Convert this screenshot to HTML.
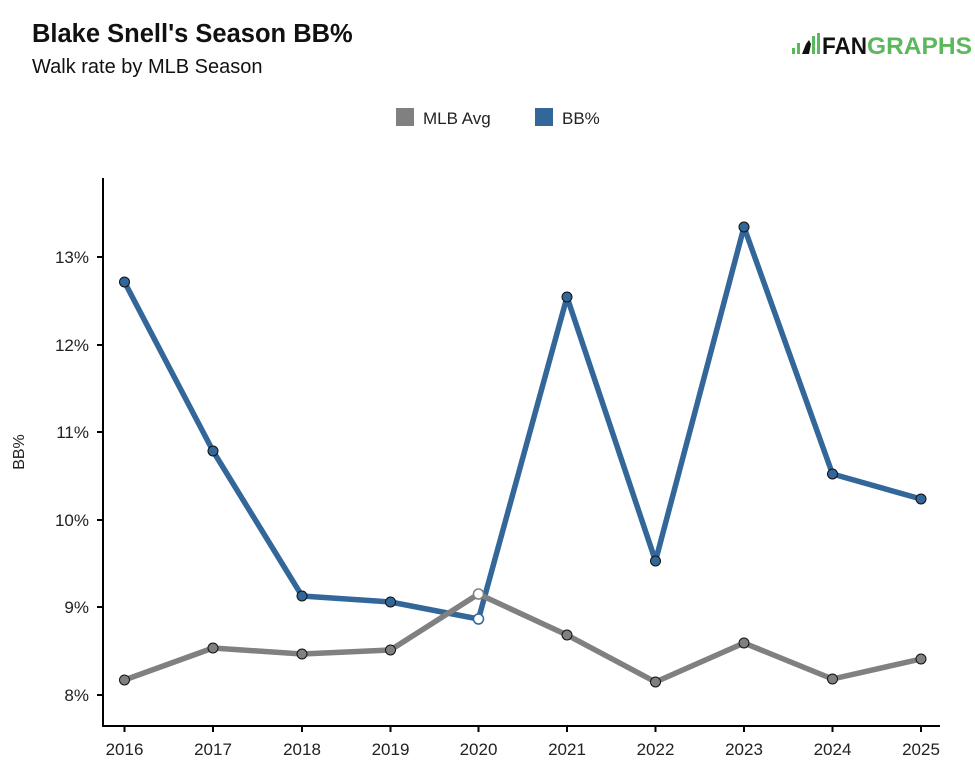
<!DOCTYPE html>
<html><head><meta charset="utf-8"><style>
body{margin:0;background:#fff;}
svg{display:block;font-family:"Liberation Sans",sans-serif;}
</style></head><body>
<svg width="975" height="768" viewBox="0 0 975 768">
<text x="32" y="42" font-size="25.5" font-weight="bold" fill="#111">Blake Snell's Season BB%</text>
<text x="32" y="73" font-size="20" fill="#111">Walk rate by MLB Season</text>
<g>
<rect x="792" y="48" width="3" height="6" fill="#5cb85c"/>
<rect x="797" y="43" width="3" height="11" fill="#5cb85c"/>
<path d="M802 54 L806 44 L809 40 L811 44 L809 54 Z" fill="#111"/>
<rect x="812" y="36" width="3" height="18" fill="#5cb85c"/>
<rect x="817" y="33" width="3" height="21" fill="#5cb85c"/>
<text x="822" y="54" font-size="24" font-weight="bold" fill="#111" textLength="45" lengthAdjust="spacingAndGlyphs">FAN</text>
<text x="867" y="54" font-size="24" font-weight="bold" fill="#5cb85c" textLength="105" lengthAdjust="spacingAndGlyphs">GRAPHS</text>
</g>
<rect x="396" y="108" width="18" height="18" fill="#808080"/>
<text x="423" y="124" font-size="17" fill="#222">MLB Avg</text>
<rect x="535" y="108" width="18" height="18" fill="#336699"/>
<text x="562" y="124" font-size="17" fill="#222">BB%</text>
<text transform="translate(24,452) rotate(-90)" font-size="16" text-anchor="middle" fill="#222">BB%</text>
<g stroke="#000" stroke-width="2" fill="none">
<path d="M103 178 V726 H940"/>
<path d="M97 257H103M97 345H103M97 432H103M97 520H103M97 607H103M97 695H103"/>
<path d="M124.5 726v6M213 726v6M302 726v6M390.5 726v6M478.5 726v6M567 726v6M655.5 726v6M744 726v6M832.5 726v6M921 726v6"/>
</g>
<g font-size="17" fill="#222" text-anchor="end">
<text x="89" y="263">13%</text><text x="89" y="351">12%</text><text x="89" y="438">11%</text><text x="89" y="526">10%</text><text x="89" y="613">9%</text><text x="89" y="701">8%</text>
</g>
<g font-size="17" fill="#222" text-anchor="middle">
<text x="124.5" y="755">2016</text><text x="213" y="755">2017</text><text x="302" y="755">2018</text><text x="390.5" y="755">2019</text><text x="478.5" y="755">2020</text><text x="567" y="755">2021</text><text x="655.5" y="755">2022</text><text x="744" y="755">2023</text><text x="832.5" y="755">2024</text><text x="921" y="755">2025</text>
</g>
<polyline points="124.5,282 213,451 302,596 390.5,602 478.5,619 567,297 655.5,561 744,227 832.5,474 921,499" fill="none" stroke="#336699" stroke-width="5.5" stroke-linejoin="round"/>
<polyline points="124.5,680 213,648 302,654 390.5,650 478.5,594 567,635 655.5,682 744,643 832.5,679 921,659" fill="none" stroke="#808080" stroke-width="5.5" stroke-linejoin="round"/>
<g stroke="#111" stroke-width="1" fill="#336699">
<circle cx="124.5" cy="282" r="5"/><circle cx="213" cy="451" r="5"/><circle cx="302" cy="596" r="5"/><circle cx="390.5" cy="602" r="5"/><circle cx="567" cy="297" r="5"/><circle cx="655.5" cy="561" r="5"/><circle cx="744" cy="227" r="5"/><circle cx="832.5" cy="474" r="5"/><circle cx="921" cy="499" r="5"/>
</g>
<circle cx="478.5" cy="619" r="5" fill="#fff" stroke="#336699" stroke-width="1.5"/>
<g stroke="#111" stroke-width="1" fill="#808080">
<circle cx="124.5" cy="680" r="5"/><circle cx="213" cy="648" r="5"/><circle cx="302" cy="654" r="5"/><circle cx="390.5" cy="650" r="5"/><circle cx="567" cy="635" r="5"/><circle cx="655.5" cy="682" r="5"/><circle cx="744" cy="643" r="5"/><circle cx="832.5" cy="679" r="5"/><circle cx="921" cy="659" r="5"/>
</g>
<circle cx="478.5" cy="594" r="5" fill="#fff" stroke="#808080" stroke-width="1.5"/>
</svg>
</body></html>
